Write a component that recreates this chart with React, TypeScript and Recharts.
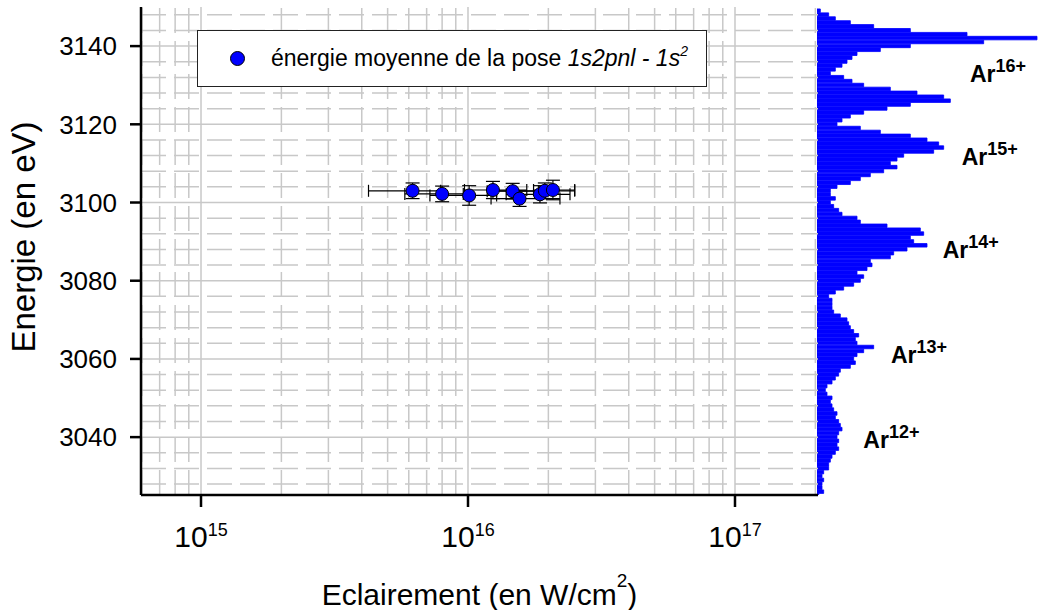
import {
  ScatterChart,
  Scatter,
  XAxis,
  YAxis,
  ReferenceLine,
  ErrorBar,
  Legend,
  Label,
  BarChart,
  Bar,
  ReferenceDot,
} from 'recharts';

const FONT = '"Liberation Sans", Arial, Helvetica, sans-serif';

// mean energy of the 1s2pnl - 1s^2 emission vs. laser intensity
const intensity = [6.2e15, 8.0e15, 1.01e16, 1.24e16, 1.47e16, 1.56e16, 1.86e16, 1.94e16, 2.08e16];
const energy = [3103.0, 3102.2, 3101.8, 3103.2, 3102.9, 3101.0, 3102.1, 3103.0, 3103.2];
const intensityErrLow = [1.96e15, 2.2e15, 2.9e15, 2.7e15, 2.9e15, 3.4e15, 4.7e15, 6.6e15, 3.2e15];
const intensityErrHigh = [1.7e15, 1.6e15, 2.7e15, 4.2e15, 3.7e15, 6.5e15, 5.5e15, 5.7e15, 4.3e15];
const energyErr = [2, 2, 2.5, 2.2, 2, 2, 2.2, 2, 2.5];

// spectrum on the right (1 eV bins)
const binEnergy = [
  3149, 3148, 3147, 3146, 3145, 3144, 3143, 3142, 3141, 3140,
  3139, 3138, 3137, 3136, 3135, 3134, 3133, 3132, 3131, 3130,
  3129, 3128, 3127, 3126, 3125, 3124, 3123, 3122, 3121, 3120,
  3119, 3118, 3117, 3116, 3115, 3114, 3113, 3112, 3111, 3110,
  3109, 3108, 3107, 3106, 3105, 3104, 3103, 3102, 3101, 3100,
  3099, 3098, 3097, 3096, 3095, 3094, 3093, 3092, 3091, 3090,
  3089, 3088, 3087, 3086, 3085, 3084, 3083, 3082, 3081, 3080,
  3079, 3078, 3077, 3076, 3075, 3074, 3073, 3072, 3071, 3070,
  3069, 3068, 3067, 3066, 3065, 3064, 3063, 3062, 3061, 3060,
  3059, 3058, 3057, 3056, 3055, 3054, 3053, 3052, 3051, 3050,
  3049, 3048, 3047, 3046, 3045, 3044, 3043, 3042, 3041, 3040,
  3039, 3038, 3037, 3036, 3035, 3034, 3033, 3032, 3031, 3030,
  3029, 3028, 3027, 3026, 3025,
];
const binCounts = [
  10, 35, 55, 100, 170, 280, 450, 660, 500, 280,
  190, 120, 105, 90, 75, 55, 40, 80, 105, 140,
  220, 300, 380, 400, 280, 210, 140, 100, 75, 60,
  130, 190, 280, 330, 365, 380, 350, 260, 240, 220,
  240, 200, 160, 130, 100, 60, 40, 40, 55, 40,
  50, 65, 75, 120, 130, 210, 310, 320, 280, 290,
  330, 270, 230, 220, 160, 165, 150, 120, 140, 130,
  110, 80, 55, 35, 45, 45, 45, 50, 70, 90,
  95, 100, 110, 125, 115, 120, 170, 140, 120, 110,
  115, 100, 70, 65, 55, 45, 30, 25, 30, 45,
  40, 45, 50, 60, 55, 65, 70, 75, 65, 60,
  65, 60, 65, 55, 45, 40, 35, 35, 20, 15,
  20, 15, 15, 20, 5,
];

const ionCharge = ['16+', '15+', '14+', '13+', '12+'];
const ionLabelEnergy = [3130.9, 3109.6, 3085.9, 3059.0, 3037.1];
const ionLabelCount = [459, 434, 377, 222, 139];

const xTicks = [1e15, 1e16, 1e17];
const xMinor = [
  6e14, 7e14, 8e14, 9e14,
  2e15, 3e15, 4e15, 5e15, 6e15, 7e15, 8e15, 9e15,
  2e16, 3e16, 4e16, 5e16, 6e16, 7e16, 8e16, 9e16,
  2e17,
];
const yTicks = [3040, 3060, 3080, 3100, 3120, 3140];
const yMinor = [
  3028, 3032, 3036, 3044, 3048, 3052, 3056, 3064, 3068, 3072, 3076, 3084,
  3088, 3092, 3096, 3104, 3108, 3112, 3116, 3124, 3128, 3132, 3136, 3144, 3148,
];

const X_DOMAIN = [5.96e14, 2.046e17];
const Y_DOMAIN = [3025.2, 3150];

const points = intensity.map((x, i) => ({
  x,
  y: energy[i],
  xErr: [intensityErrLow[i], intensityErrHigh[i]],
  yErr: energyErr[i],
}));

const histData = binEnergy.map((e, i) => ({ e, n: binCounts[i] }));

const GRID = '#c8c8c8';

function PowerTick(props: any) {
  const { x, y, payload } = props;
  const exp = Math.round(Math.log10(payload.value));
  return (
    <text x={x} y={y + 38} textAnchor="middle" fill="#000" fontFamily={FONT}>
      <tspan fontSize={30}>10</tspan>
      <tspan fontSize={18} dy={-11}>{exp}</tspan>
    </text>
  );
}

function LegendBox() {
  return (
    <div
      style={{
        boxSizing: 'border-box',
        width: 510,
        height: 57,
        border: '1px solid #222',
        background: '#fff',
        display: 'flex',
        alignItems: 'center',
        fontFamily: FONT,
        fontSize: 23,
        color: '#000',
        whiteSpace: 'nowrap',
      }}
    >
      <span
        style={{
          display: 'inline-block',
          width: 13,
          height: 13,
          borderRadius: '50%',
          background: '#0000ff',
          border: '1px solid #000',
          marginLeft: 32,
          marginRight: 26,
        }}
      />
      <span>
        énergie moyenne de la pose <i>1s2pnl - 1s</i>
        <i style={{ fontSize: 14, verticalAlign: 10, lineHeight: 0 }}>2</i>
      </span>
    </div>
  );
}

function Dot(props: any) {
  return <circle cx={props.cx} cy={props.cy} r={6.5} fill="#0000ff" stroke="#000" strokeWidth={1} />;
}

function IonLabel(charge: string) {
  return (props: any) => (
    <text x={props.cx} y={props.cy} fontFamily={FONT} fontWeight="bold" fontSize={23} fill="#000">
      Ar
      <tspan fontSize={18} dy={-10}>{charge}</tspan>
    </text>
  );
}

export default function App() {
  return (
    <div style={{ position: 'absolute', left: 0, top: 0, width: 1042, height: 610, background: '#fff' }}>
      <div style={{ position: 'absolute', left: 0, top: 0 }}>
        <BarChart
          width={1042}
          height={610}
          layout="vertical"
          data={histData}
          margin={{ top: 7, right: 0, bottom: 115, left: 817 }}
          barCategoryGap={0}
        >
          <XAxis
            type="number"
            domain={[0, 675]}
            allowDataOverflow
            tick={false}
            tickLine={false}
            height={0}
            axisLine={{ stroke: '#000', strokeWidth: 1.5 }}
          />
          <XAxis
            xAxisId="top"
            orientation="top"
            type="number"
            domain={[0, 675]}
            tick={false}
            tickLine={false}
            height={0}
            axisLine={{ stroke: '#333', strokeWidth: 2 }}
          />
          <YAxis type="number" dataKey="e" domain={Y_DOMAIN} allowDataOverflow reversed hide />
          <Bar
            dataKey="n"
            fill="#0000ff"
            stroke="#0000ff"
            strokeWidth={0.8}
            barSize={6}
            isAnimationActive={false}
          />
          {ionCharge.map((c, i) => (
            <ReferenceDot
              key={c}
              x={ionLabelCount[i]}
              y={ionLabelEnergy[i]}
              r={0}
              shape={IonLabel(c)}
            />
          ))}
        </BarChart>
      </div>
      <div style={{ position: 'absolute', left: 0, top: 0 }}>
        <ScatterChart
          width={1042}
          height={610}
          margin={{ top: 7, right: 224, bottom: 55, left: 61 }}
          style={{ fontFamily: FONT }}
        >
          {xMinor.map((v) => (
            <ReferenceLine key={`xm${v}`} x={v} stroke={GRID} strokeWidth={1.5} strokeDasharray="25 8" />
          ))}
          {yMinor.map((v) => (
            <ReferenceLine key={`ym${v}`} y={v} stroke={GRID} strokeWidth={1.5} strokeDasharray="25 8" />
          ))}
          {xTicks.map((v) => (
            <ReferenceLine key={`xM${v}`} x={v} stroke={GRID} strokeWidth={1.5} />
          ))}
          {yTicks.map((v) => (
            <ReferenceLine key={`yM${v}`} y={v} stroke={GRID} strokeWidth={1.5} />
          ))}
          <XAxis
            type="number"
            dataKey="x"
            scale="log"
            domain={X_DOMAIN}
            allowDataOverflow
            ticks={xTicks}
            tick={<PowerTick />}
            tickSize={12}
            height={60}
            axisLine={{ stroke: '#000', strokeWidth: 2.5 }}
            tickLine={{ stroke: '#000', strokeWidth: 2.5 }}
            label={
              <Label
                content={(p: any) => (
                  <text
                    x={p.viewBox.x + p.viewBox.width / 2}
                    y={605}
                    textAnchor="middle"
                    fontFamily={FONT}
                    fontSize={30}
                    fill="#000"
                  >
                    Eclairement (en W/cm
                    <tspan fontSize={19} dy={-18}>2</tspan>
                    <tspan dy={18}>)</tspan>
                  </text>
                )}
              />
            }
          />
          <XAxis
            xAxisId="top"
            orientation="top"
            type="number"
            domain={X_DOMAIN}
            tick={false}
            tickLine={false}
            height={0}
            axisLine={{ stroke: '#000', strokeWidth: 2.5 }}
          />
          <YAxis
            type="number"
            dataKey="y"
            domain={Y_DOMAIN}
            allowDataOverflow
            ticks={yTicks}
            width={80}
            tickSize={11}
            tickMargin={13}
            tick={{ fill: '#000', fontSize: 26, fontFamily: FONT }}
            axisLine={{ stroke: '#000', strokeWidth: 2.5 }}
            tickLine={{ stroke: '#000', strokeWidth: 2.5 }}
            label={
              <Label
                content={(p: any) => {
                  const cy = p.viewBox.y + p.viewBox.height / 2 - 14;
                  return (
                    <text
                      x={35}
                      y={cy}
                      transform={`rotate(-90 35 ${cy})`}
                      textAnchor="middle"
                      fontFamily={FONT}
                      fontSize={33}
                      fill="#000"
                    >
                      Energie (en eV)
                    </text>
                  );
                }}
              />
            }
          />
          <YAxis
            yAxisId="right"
            orientation="right"
            type="number"
            domain={Y_DOMAIN}
            tick={false}
            tickLine={false}
            width={0}
            axisLine={{ stroke: '#000', strokeWidth: 2.5 }}
          />
          <Legend
            layout="horizontal"
            verticalAlign="middle"
            align="center"
            wrapperStyle={{ left: 197, top: 30, width: 510, height: 57 }}
            content={() => <LegendBox />}
          />
          <Scatter data={points} shape={<Dot />} isAnimationActive={false}>
            <ErrorBar direction="x" dataKey="xErr" width={6} stroke="#000" strokeWidth={1.2} />
            <ErrorBar direction="y" dataKey="yErr" width={7} stroke="#000" strokeWidth={1.2} />
          </Scatter>
        </ScatterChart>
      </div>
    </div>
  );
}
